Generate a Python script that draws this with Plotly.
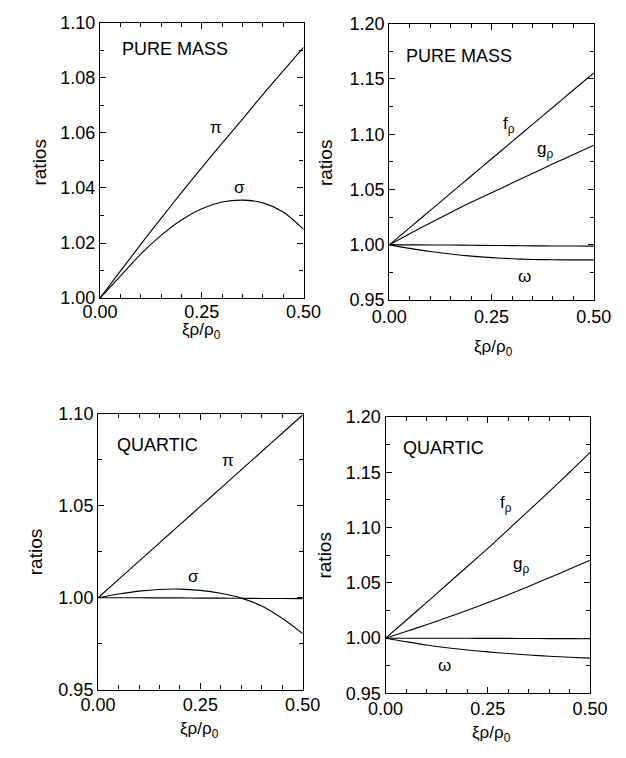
import plotly.graph_objects as go

# ---------------- data ----------------
x_vals = [0.0, 0.05, 0.10, 0.15, 0.20, 0.25, 0.30, 0.35, 0.40, 0.45, 0.50]

# Panel 1: pure mass, pi / sigma
pi_pure = [1.0, 1.0098, 1.0195, 1.0290, 1.0383, 1.0474, 1.0563, 1.0650, 1.0739, 1.0825, 1.0910]
sigma_pure = [1.0, 1.0080, 1.0160, 1.0228, 1.0284, 1.0325, 1.0349, 1.0356, 1.0346, 1.0313, 1.0250]

# Panel 2: pure mass, f_rho / g_rho / flat / omega
f_pure = [1.0, 1.0156, 1.0311, 1.0467, 1.0622, 1.0778, 1.0933, 1.1089, 1.1244, 1.1400, 1.1555]
g_pure = [1.0, 1.0100, 1.0198, 1.0293, 1.0384, 1.0470, 1.0558, 1.0645, 1.0732, 1.0817, 1.0900]
flat_pure = [1.0, 1.0, 0.9999, 0.9998, 0.9996, 0.9994, 0.9993, 0.9991, 0.9990, 0.9989, 0.9988]
omega_pure = [1.0, 0.9968, 0.9940, 0.9917, 0.9898, 0.9884, 0.9874, 0.9868, 0.9865, 0.9864, 0.9864]

# Panel 3: quartic, pi / sigma / flat
pi_quart = [1.0, 1.00995, 1.0199, 1.02985, 1.0398, 1.04975, 1.0597, 1.06965, 1.0796, 1.08955, 1.0995]
sigma_quart = [1.0, 1.0020, 1.0036, 1.0045, 1.0047, 1.0040, 1.0024, 0.9998, 0.9955, 0.9888, 0.9805]
flat_quart = [1.0, 1.0, 1.0, 0.9999, 0.9999, 0.9998, 0.9998, 0.9997, 0.9996, 0.9996, 0.9995]

# Panel 4: quartic, f_rho / g_rho / flat / omega
f_quart = [1.0, 1.0160, 1.0322, 1.0485, 1.0648, 1.0812, 1.0982, 1.1153, 1.1325, 1.1500, 1.1680]
g_quart = [1.0, 1.0060, 1.0122, 1.0186, 1.0252, 1.0322, 1.0393, 1.0468, 1.0546, 1.0625, 1.0705]
flat_quart2 = [1.0, 1.0, 1.0, 0.9999, 0.9999, 0.9998, 0.9998, 0.9997, 0.9996, 0.9996, 0.9995]
omega_quart = [1.0, 0.9968, 0.9938, 0.9913, 0.9893, 0.9876, 0.9861, 0.9848, 0.9837, 0.9828, 0.9820]

x_ticks = [0.0, 0.25, 0.50]
x_ticktext = ["0.00", "0.25", "0.50"]

# ---------------- figure ----------------
W, H = 626, 758
FONT = "Liberation Sans, Arial, Helvetica, sans-serif"
INK = "#000000"

fig = go.Figure()

panels = [
    dict(xd=(87, 303), yd=(13, 296), yr=(1.0, 1.10), dt=0.02, mdt=0.01, so=-3,
         series=[pi_pure, sigma_pure]),
    dict(xd=(394, 611), yd=(14, 298), yr=(0.95, 1.20), dt=0.05, mdt=0.025, so=0,
         series=[f_pure, g_pure, flat_pure, omega_pure]),
    dict(xd=(85, 302), yd=(415, 698), yr=(0.95, 1.10), dt=0.05, mdt=0.025, so=-1,
         series=[pi_quart, sigma_quart, flat_quart]),
    dict(xd=(390, 607), yd=(418, 702), yr=(0.95, 1.20), dt=0.05, mdt=0.025, so=-1,
         series=[f_quart, g_quart, flat_quart2, omega_quart]),
]

layout_axes = {}
for i, p in enumerate(panels, start=1):
    sfx = "" if i == 1 else str(i)
    for ys in p["series"]:
        fig.add_trace(go.Scatter(
            x=x_vals, y=ys, mode="lines",
            line=dict(color=INK, width=1.1, shape="spline", smoothing=0.8),
            xaxis="x" + sfx, yaxis="y" + sfx, showlegend=False, hoverinfo="skip"))
    xd = [p["xd"][0] / W, p["xd"][1] / W]
    yd = [1 - p["yd"][1] / H, 1 - p["yd"][0] / H]
    common = dict(showline=True, linecolor=INK, linewidth=1.2, mirror="ticks",
                  ticks="inside", ticklen=6, tickwidth=1, tickcolor=INK,
                  showgrid=False, zeroline=False,
                  tickfont=dict(family=FONT, size=18, color=INK))
    layout_axes["xaxis" + sfx] = dict(
        domain=xd, range=[0, 0.5], anchor="y" + sfx,
        tickmode="array", tickvals=x_ticks, ticktext=x_ticktext,
        minor=dict(ticks="inside", ticklen=4, tickwidth=1, tickcolor=INK, dtick=0.05, tick0=0),
        ticklabelstandoff=p["so"],
        **common)
    layout_axes["yaxis" + sfx] = dict(
        domain=yd, range=list(p["yr"]), anchor="x" + sfx,
        tick0=p["yr"][0], dtick=p["dt"], tickformat=".2f",
        minor=dict(ticks="inside", ticklen=4, tickwidth=1, tickcolor=INK, dtick=p["mdt"], tick0=p["yr"][0]),
        **common)

fig.update_layout(**layout_axes)

ann = []

def label(text, xref, yref, x, y, size=17):
    ann.append(dict(text=text, xref=xref, yref=yref, x=x, y=y, showarrow=False,
                    font=dict(family=FONT, size=size, color=INK)))

# panel titles
label("PURE MASS", "x", "y", 0.185, 1.0905, 18)
label("PURE MASS", "x2", "y2", 0.17, 1.1705, 18)
label("QUARTIC", "x3", "y3", 0.145, 1.0832, 18)
label("QUARTIC", "x4", "y4", 0.142, 1.1718, 18)

# curve labels
label("π", "x", "y", 0.285, 1.062)
label("σ", "x", "y", 0.343, 1.040)
label("f<sub>ρ</sub>", "x2", "y2", 0.292, 1.108)
label("g<sub>ρ</sub>", "x2", "y2", 0.380, 1.086)
label("ω", "x2", "y2", 0.330, 0.971)
label("π", "x3", "y3", 0.318, 1.0745)
label("σ", "x3", "y3", 0.233, 1.0115)
label("f<sub>ρ</sub>", "x4", "y4", 0.295, 1.121)
label("g<sub>ρ</sub>", "x4", "y4", 0.332, 1.066)
label("ω", "x4", "y4", 0.143, 0.9755)

# axis titles (paper coords from pixel positions)
def paper_label(text, px, py, angle=0, size=18):
    ann.append(dict(text=text, xref="paper", yref="paper", x=px / W, y=1 - py / H,
                    xanchor="center", yanchor="middle", showarrow=False, textangle=angle,
                    font=dict(family=FONT, size=size, color=INK)))

paper_label("ratios", 23, 157, -90, 19)
paper_label("ratios", 327, 157, -90, 19)
paper_label("ratios", 18, 557, -90, 19)
paper_label("ratios", 325, 560, -90, 19)

xt = "ξρ/ρ<sub>0</sub>"
paper_label(xt, 195, 330, 0, 17)
paper_label(xt, 505, 347, 0, 17)
paper_label(xt, 193, 740, 0, 17)
paper_label(xt, 502, 744, 0, 17)

fig.update_layout(
    width=W, height=H, margin=dict(l=0, r=0, t=0, b=0),
    paper_bgcolor="white", plot_bgcolor="white",
    annotations=ann, showlegend=False,
)

fig.write_html("out.html")
